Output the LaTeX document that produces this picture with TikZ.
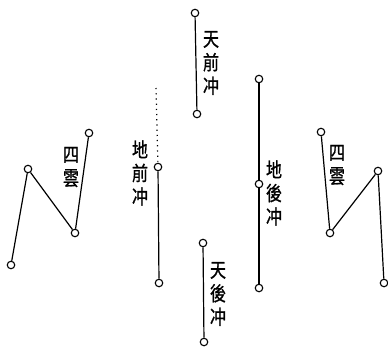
\documentclass[tikz,border=0pt]{standalone}
\usepackage{fontspec}
\newfontfamily\cjk[FakeStretch=0.8,FakeBold=1]{Noto Sans CJK TC}

\begin{document}
\begin{tikzpicture}[x=1pt,y=-1pt,-,line width=1.2pt,
  ring/.style={circle,draw,fill=white,line width=1.1pt,minimum size=7.5pt,inner sep=0pt},
  name node/.style={font=\cjk\fontsize{20}{23.5}\selectfont,align=center,inner sep=0pt}]
  \useasboundingbox (0,0) rectangle (388,349);

  % left four clouds
  \node[ring] (L1) at (11,265) {};
  \node[ring] (L2) at (28,169) {};
  \node[ring] (L3) at (75,233) {};
  \node[ring] (L4) at (89,133) {};
  \node[name node] (LL) at (71,167) {四\\雲};

  % earth front
  \coordinate (E0) at (156,88);
  \node[ring] (E1) at (158,167) {};
  \node[ring] (E2) at (159,283) {};
  \node[name node] (EL) at (140,173) {地\\前\\冲};

  % heaven front
  \node[ring] (H1) at (195,13) {};
  \node[ring] (H2) at (197,114) {};
  \node[name node] (HL) at (211,63) {天\\前\\冲};

  % earth back
  \node[ring] (B1) at (259,79) {};
  \node[ring] (B2) at (259,184) {};
  \node[ring] (B3) at (259,288) {};
  \node[name node] (BL) at (274,193) {地\\後\\冲};

  % heaven back
  \node[ring] (T1) at (203,243) {};
  \node[ring] (T2) at (204,342) {};
  \node[name node] (TL) at (218,294) {天\\後\\冲};

  % right four clouds
  \node[ring] (R1) at (321,132) {};
  \node[ring] (R2) at (330,233) {};
  \node[ring] (R3) at (378,171) {};
  \node[ring] (R4) at (384,283) {};
  \node[name node] (RL) at (337,165) {四\\雲};

  \path
    (L1) edge (L2)
    (L2) edge (L3)
    (L3) edge (L4)

    (E0) edge [loosely dotted] (E1)
    (E1) edge (E2)

    (H1) edge (H2)

    (B1) edge (B2)
    (B2) edge (B3)

    (T1) edge (T2)

    (R1) edge (R2)
    (R2) edge (R3)
    (R3) edge (R4)
  ;
\end{tikzpicture}
\end{document}
